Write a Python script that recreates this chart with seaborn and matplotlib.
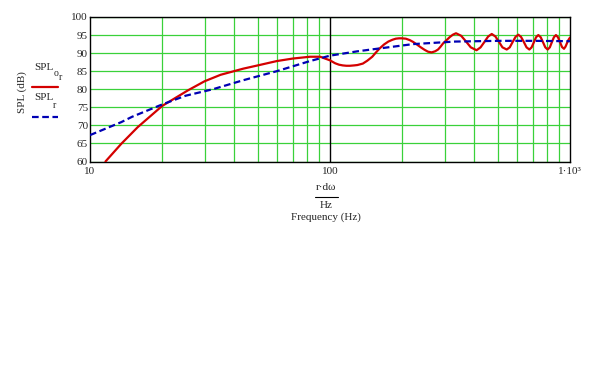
import numpy as np
import pandas as pd
import matplotlib
matplotlib.use("Agg")
import matplotlib.pyplot as plt
import seaborn as sns

# red curve, SPL o_r
freq_o = [11.6, 13.5, 15.8, 20, 25.6, 30, 35, 43.5, 50, 60, 70, 82.5, 91, 100, 105,
          109, 113, 117, 121, 126, 130, 137, 143, 150, 155, 161, 168, 175, 182, 188, 194,
          199, 207, 215, 222, 230, 239, 248, 256, 265, 274, 282, 289, 296, 306, 315, 325,
          335, 352, 369, 386, 408, 424, 440, 456, 472, 489, 506, 523, 545, 561, 577, 593,
          609, 625, 642, 659, 677, 692, 707, 722, 738, 755, 772, 789, 807, 824, 840, 857,
          874, 891, 909, 926, 944, 958, 972, 986, 1000]
spl_o = [60.0, 64.9, 69.5, 75.4, 79.7, 82.2, 84.0, 85.7, 86.6, 87.8, 88.5, 89.0, 89.0, 88.0, 87.2,
         86.8, 86.6, 86.5, 86.5, 86.6, 86.7, 87.1, 87.9, 89.0, 90.1, 91.3, 92.4, 93.2, 93.7, 94.0, 94.1,
         94.1, 94.0, 93.6, 93.1, 92.4, 91.6, 90.9, 90.4, 90.2, 90.5, 91.0, 91.8, 92.7, 93.6, 94.4, 95.1,
         95.5, 94.8, 93.2, 91.6, 90.8, 91.6, 93.1, 94.6, 95.3, 94.6, 93.1, 91.6, 91.0, 91.6, 93.1, 94.5,
         95.1, 94.5, 93.1, 91.6, 91.0, 91.6, 93.0, 94.4, 95.0, 94.4, 93.0, 91.6, 91.0, 91.6, 93.0, 94.4,
         95.0, 94.4, 93.0, 91.7, 91.2, 91.8, 92.8, 93.7, 94.3]

# blue dashed curve, SPL r
freq_r = [10, 13.5, 15, 20, 25, 32.5, 43.5, 60, 82.5, 100, 130, 161, 222, 332, 500, 700, 1000]
spl_r = [67.3, 70.9, 72.4, 75.8, 78.2, 80.0, 82.5, 85.0, 87.8, 89.3, 90.5, 91.3, 92.5, 93.2, 93.4, 93.4, 93.3]

yticks = [60, 65, 70, 75, 80, 85, 90, 95, 100]
xticks = [10, 100, 1000]
xticklabels = ["10", "100", "1·10³"]

sns.set_style("white")
plt.rcParams['font.family'] = ['Liberation Serif', 'DejaVu Serif']

green = '#3ad13a'
red = '#d40000'
blue = '#0000b4'
dash = (0, (3, 1.6))

fig = plt.figure(figsize=(5.92, 3.74), dpi=100)
ax = fig.add_axes([90/592, 1 - 161.5/374, 480/592, 144.5/374])

df_o = pd.DataFrame({"f": freq_o, "spl": spl_o})
df_r = pd.DataFrame({"f": freq_r, "spl": spl_r})
sns.lineplot(data=df_o, x="f", y="spl", ax=ax, color=red, lw=1.6, zorder=4)
sns.lineplot(data=df_r, x="f", y="spl", ax=ax, color=blue, lw=1.6, zorder=5,
             dashes=False, linestyle=dash)

ax.set_xscale("log")
ax.set_xlim(10, 1000)
ax.set_ylim(60, 100)

minor = [m * d for d in (10, 100) for m in range(2, 10)]
ax.set_xticks(xticks)
ax.set_xticklabels(xticklabels, fontsize=8)
ax.set_xticks(minor, minor=True)
ax.set_xticklabels([], minor=True)
ax.set_yticks(yticks)
ax.set_yticklabels([str(v) for v in yticks], fontsize=8)
ax.tick_params(axis='both', which='both', length=0)
ax.tick_params(axis='x', pad=4)
ax.tick_params(axis='y', pad=1.5)

ax.grid(True, which='minor', axis='x', color=green, lw=0.9)
ax.grid(True, which='major', axis='y', color=green, lw=0.9)
ax.axvline(100, color='black', lw=1.0, zorder=3)
for s in ax.spines.values():
    s.set_color('black')
    s.set_linewidth(1.0)
ax.set_xlabel("")
ax.set_ylabel("")

# y label and legend in the Mathcad style
fig.text(22/592, 1 - 92/374, "SPL (dB)", rotation=90, ha='center', va='center', fontsize=8)
fig.text(34/592, 1 - 67/374, "SPL", ha='left', va='center', fontsize=8)
fig.text(54/592, 1 - 73/374, "o", ha='left', va='center', fontsize=7)
fig.text(58.5/592, 1 - 77/374, "r", ha='left', va='center', fontsize=7)
fig.add_artist(plt.Line2D([32/592, 58/592], [1 - 86.7/374] * 2, color=red, lw=1.6))
fig.text(34/592, 1 - 97/374, "SPL", ha='left', va='center', fontsize=8)
fig.text(53/592, 1 - 105/374, "r", ha='left', va='center', fontsize=7)
fig.add_artist(plt.Line2D([32/592, 58/592], [1 - 116.7/374] * 2, color=blue, lw=1.6,
                          linestyle=dash))

# x label as a fraction
fig.text(326/592, 1 - 188/374, "r·dω", ha='center', va='center', fontsize=8)
fig.add_artist(plt.Line2D([315/592, 338/592], [1 - 196.5/374] * 2, color='black', lw=0.8))
fig.text(326/592, 1 - 205/374, "Hz", ha='center', va='center', fontsize=8)
fig.text(326/592, 1 - 217/374, "Frequency (Hz)", ha='center', va='center', fontsize=8)

fig.savefig("out.png", dpi=100)
